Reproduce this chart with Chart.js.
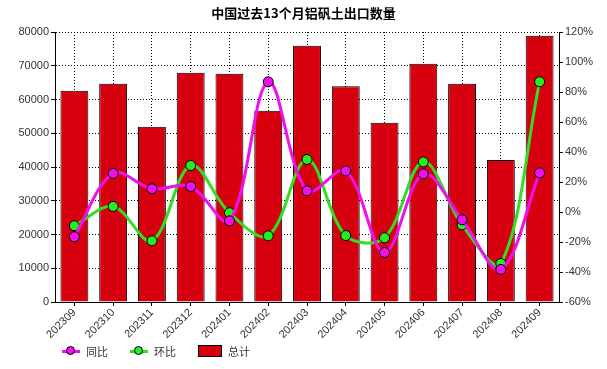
<!DOCTYPE html>
<html>
<head>
<meta charset="utf-8">
<script src="https://cdn.jsdelivr.net/npm/chart.js@4/dist/chart.umd.min.js"></script>
<style>
    body { margin: 0; background: #fff; font-family: "Liberation Sans", Arial, sans-serif; }
    #wrap { position: relative; width: 607px; height: 369px; }
    #titulo { position: absolute; left: 0; top: 3px; width: 607px; text-align: center; font: bold 13px "Noto Sans CJK SC", sans-serif; color: #000; }
    #legenda { position: absolute; left: 62px; top: 343px; font: 11px "Noto Sans CJK SC", sans-serif; color: #333; display: flex; }
    .item { display: flex; align-items: center; margin-right: 22px; }
    .linha { position: relative; width: 18px; height: 3px; margin-right: 6px; }
    .linha span { position: absolute; left: 4px; top: -4px; width: 9px; height: 9px; border-radius: 50%; border: 1px solid #000; box-sizing: border-box; }
    .caixa { width: 22px; height: 10px; background: #d7000f; border: 1px solid #000; margin-right: 6px; }
</style>
</head>
<body>
<div id="wrap">
    <div id="titulo">中国过去13个月铝矾土出口数量</div>
    <canvas id="grafico" width="607" height="369"></canvas>
    <div id="legenda">
        <div class="item"><div class="linha" style="background:#ee11ee"><span style="background:#ee11ee"></span></div>同比</div>
        <div class="item"><div class="linha" style="background:#33dd22"><span style="background:#22ee22"></span></div>环比</div>
        <div class="item"><div class="caixa"></div>总计</div>
    </div>
</div>
<script>
const meses = ['202309', '202310', '202311', '202312', '202401', '202402', '202403',
    '202404', '202405', '202406', '202407', '202408', '202409'];
const total = [62600, 64650, 51900, 67900, 67600, 56700, 75950, 63950, 53100, 70600, 64650, 42100, 78900];
const tongbi = [-16.5, 25.7, 15.5, 17, -5.9, 86.8, 14.1, 27.4, -27, 25.4, -5.2, -38.3, 26.1];
const huanbi = [-9.2, 3.7, -19.2, 31, -0.5, -15.9, 35, -15.7, -17.2, 33.4, -8.6, -34.3, 86.8];

const fonteEixo = { family: '"Liberation Sans", Arial, sans-serif', size: 11 };

const context = document.getElementById('grafico').getContext('2d');

new Chart(context, {
    type: 'bar',
    data: {
        labels: meses,
        datasets: [
            {
                type: 'line',
                label: '同比',
                data: tongbi,
                yAxisID: 'y1',
                borderColor: '#ee11ee',
                backgroundColor: '#ee11ee',
                borderWidth: 3,
                pointRadius: 5,
                pointBorderColor: '#000',
                pointBorderWidth: 1,
                pointBackgroundColor: '#ee11ee',
                tension: 0.35,
                order: 0
            },
            {
                type: 'line',
                label: '环比',
                data: huanbi,
                yAxisID: 'y1',
                borderColor: '#33dd22',
                backgroundColor: '#22ee22',
                borderWidth: 3,
                pointRadius: 5,
                pointBorderColor: '#000',
                pointBorderWidth: 1,
                pointBackgroundColor: '#22ee22',
                tension: 0.35,
                order: 1
            },
            {
                label: '总计',
                data: total,
                yAxisID: 'y',
                backgroundColor: '#d7000f',
                borderColor: '#000',
                borderWidth: 1,
                categoryPercentage: 1,
                barPercentage: 0.72,
                order: 2
            }
        ]
    },
    options: {
        responsive: false,
        animation: false,
        layout: { padding: { top: 32, left: 0, right: 0, bottom: 0 } },
        plugins: {
            legend: { display: false },
            tooltip: { enabled: false }
        },
        scales: {
            x: {
                grid: {
                    offset: false,
                    color: '#000',
                    tickBorderDash: [],
                    tickColor: '#000',
                    tickLength: 4
                },
                border: { color: '#000', width: 1, dash: [1, 2] },
                ticks: { minRotation: 45, maxRotation: 45, color: '#333', font: fonteEixo, padding: 0 },
                afterFit: scale => { scale.height = 67; }
            },
            y: {
                position: 'left',
                min: 0,
                max: 80000,
                grid: {
                    color: '#000',
                    tickBorderDash: [],
                    tickColor: '#000',
                    tickLength: 4
                },
                border: { color: '#000', width: 1, dash: [1, 2] },
                ticks: { stepSize: 10000, color: '#333', font: fonteEixo, padding: 2, callback: v => String(v) },
                afterFit: scale => { scale.width = 55; }
            },
            y1: {
                position: 'right',
                min: -60,
                max: 120,
                grid: { drawOnChartArea: false, tickColor: '#000', tickLength: 4 },
                border: { color: '#000', width: 1 },
                ticks: { stepSize: 20, color: '#333', font: fonteEixo, padding: 2, callback: v => v + '%' },
                afterFit: scale => { scale.width = 48; }
            }
        }
    }
});
</script>
</body>
</html>
